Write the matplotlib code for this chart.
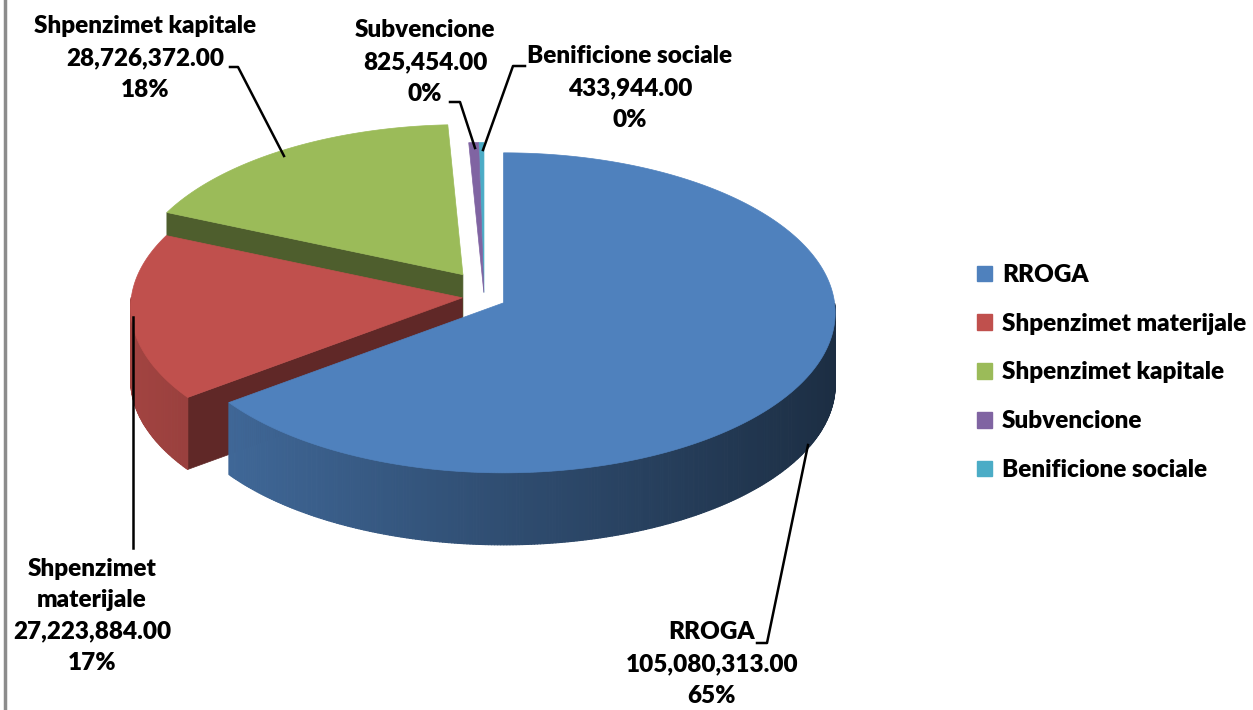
import numpy as np
import matplotlib.pyplot as plt
from matplotlib.patches import Polygon, Patch
from matplotlib.collections import PolyCollection
from matplotlib.colors import to_rgb

plt.rcParams['font.family'] = ['Lato', 'DejaVu Sans']

# data
categories = ["RROGA", "Shpenzimet materijale", "Shpenzimet kapitale", "Subvencione", "Benificione sociale"]
values = [105080313.00, 27223884.00, 28726372.00, 825454.00, 433944.00]
pct_labels = ["65%", "17%", "18%", "0%", "0%"]
label_names = ["RROGA", "Shpenzimet\nmaterijale", "Shpenzimet kapitale", "Subvencione", "Benificione sociale"]
colors = ["#4F81BD", "#C0504D", "#9BBB59", "#8064A2", "#4BACC6"]
explode = [0.066, 0.066, 0.112, 0.015, 0.015]

W, H = 1253, 710
CX, CY = 484, 296      # pie centre in pixels
RX, RY = 331, 160      # ellipse radii
PERSP = 0.0625         # front gets a bit bigger than the back
DEPTH = 72
FS = 17.5
WEIGHT = "heavy"

# label centre (x, y of block middle), leader polyline
label_pos = [(712, 664), (92, 616), (145, 58), (425, 62), (630, 88)]
leaders = [
    [(757, 643), (767, 643), (808, 445)],
    [(133, 548), (133, 317)],
    [(230, 67), (238, 67), (284, 156)],
    [(450, 102), (460, 102), (475, 148)],
    [(525, 66), (513, 66), (483, 150)],
]


def rim(tip, t):
    r = np.radians(t)
    f = 1 - PERSP * np.sin(r)
    return (tip[0] + RX * np.cos(r) * f, tip[1] - RY * np.sin(r) * f)


def draw_wedge(ax, tip, a0, a1, color, z):
    base = np.array(to_rgb(color))
    ts = np.linspace(a0, a1, max(3, int((a1 - a0) * 2)))
    # cut faces that look towards the viewer
    for t, n in ((a0, a0 - 90), (a1, a1 + 90)):
        if np.sin(np.radians(n)) < -0.05:
            p = rim(tip, t)
            quad = [tip, p, (p[0], p[1] + DEPTH), (tip[0], tip[1] + DEPTH)]
            c = base * 0.5
            ax.add_patch(Polygon(quad, closed=True, fc=c, ec=c, lw=0.5, zorder=z))
    # outer wall with a left-to-right shade
    quads, cols = [], []
    for i in range(len(ts) - 1):
        tm = (ts[i] + ts[i + 1]) / 2
        if np.sin(np.radians(tm)) < 0:
            p, q = rim(tip, ts[i]), rim(tip, ts[i + 1])
            quads.append([p, q, (q[0], q[1] + DEPTH), (p[0], p[1] + DEPTH)])
            cols.append(np.clip(base * (0.6 - 0.25 * np.cos(np.radians(tm))), 0, 1))
    if quads:
        ax.add_collection(PolyCollection(quads, facecolors=cols, edgecolors=cols,
                                         linewidths=0.8, zorder=z + 1))
    top = [tip] + [rim(tip, t) for t in ts]
    ax.add_patch(Polygon(top, closed=True, fc=color, ec=color, lw=0.5, zorder=z + 2))


fig = plt.figure(figsize=(W / 100, H / 100), dpi=100)
ax = fig.add_axes([0, 0, 1, 1])
ax.set_xlim(0, W)
ax.set_ylim(H, 0)
ax.axis("off")

total = sum(values)
start = 90.0
wedges = []
for i, v in enumerate(values):
    sweep = 360.0 * v / total
    a0, a1 = start - sweep, start
    mid = np.radians((a0 + a1) / 2)
    tip = (CX + explode[i] * RX * np.cos(mid), CY - explode[i] * RX * 0.7 * np.sin(mid))
    wedges.append((tip, a0, a1, colors[i]))
    start = a0

# back to front
order = sorted(range(len(wedges)), key=lambda k: wedges[k][0][1])
for n, k in enumerate(order):
    tip, a0, a1, c = wedges[k]
    draw_wedge(ax, tip, a0, a1, c, 10 + n * 3)

for i in range(len(values)):
    txt = f"{label_names[i]}\n{values[i]:,.2f}\n{pct_labels[i]}"
    x, y = label_pos[i]
    ax.text(x, y, txt, ha="center", va="center", fontsize=FS, fontweight=WEIGHT,
            linespacing=1.53, zorder=50)
    pts = np.array(leaders[i])
    ax.plot(pts[:, 0], pts[:, 1], color="black", lw=1.8, zorder=49)

# grey frame edge on the left
ax.plot([5, 5], [0, H], color="#8c8c8c", lw=2.5, zorder=60)

handles = [Patch(facecolor=c, edgecolor=c) for c in colors]
fig.legend(handles, categories, loc="upper left", bbox_to_anchor=(977 / W, 1 - 264 / H),
           frameon=False, prop={"weight": WEIGHT, "size": FS},
           handlelength=0.62, handleheight=0.62, handletextpad=0.4,
           labelspacing=1.1, borderpad=0, borderaxespad=0)

fig.savefig("out.png", dpi=100)
